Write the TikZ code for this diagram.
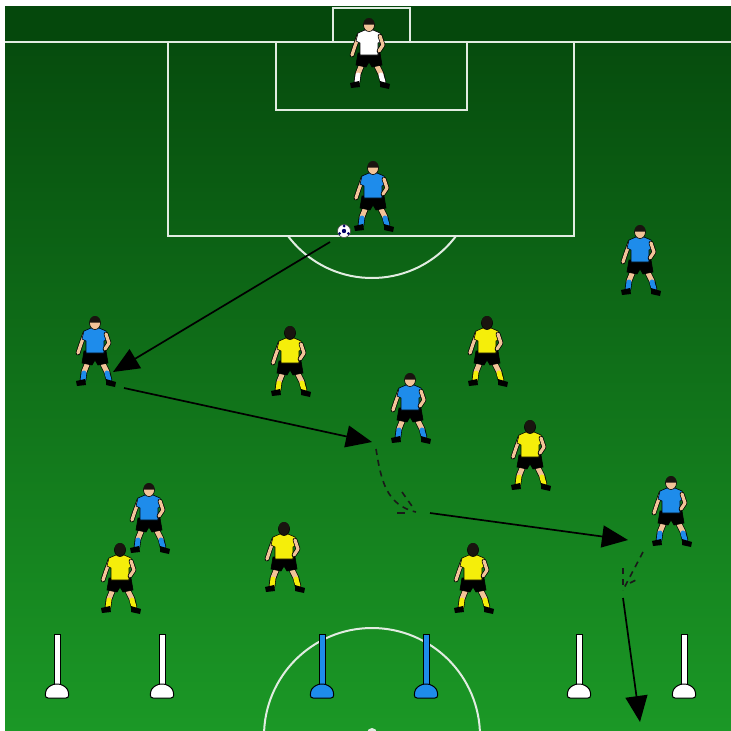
\documentclass[tikz,border=0pt]{standalone}
\usetikzlibrary{arrows.meta}
\definecolor{skin}{RGB}{242,196,152}
\definecolor{kitblue}{RGB}{30,140,235}
\definecolor{kityellow}{RGB}{245,238,10}
\definecolor{grassTop}{RGB}{5,72,12}
\definecolor{grassMid}{RGB}{18,132,28}
\definecolor{grassLow}{RGB}{27,152,38}
\definecolor{pitchline}{RGB}{225,236,225}
\definecolor{hair}{RGB}{25,20,15}

\tikzset{
  pitch/.style={draw=pitchline, line width=2pt},
  run/.style={black, line width=1.7pt, -{Triangle[length=26pt,width=22pt]}},
  dribble/.style={black!90, line width=1.6pt, dash pattern=on 6pt off 5pt},
  limb/.style={line width=5pt, line cap=round, line join=round},
  limbedge/.style={line width=6.4pt, line cap=round, line join=round, black},
  outline/.style={draw=black, line width=0.6pt},
  % a player in a defending stance; origin at the centre of the head
  % #1 shirt, #2 socks, #3 head colour
  pics/player/.style n args={3}{code={
    % legs
    \draw[limbedge] (-7,39) -- (-11,49) -- (-12,57);
    \draw[limbedge] (7,39) -- (12,49) -- (14,57);
    \draw[limb, skin] (-7,39) -- (-11,49);
    \draw[limb, skin] (7,39) -- (12,49);
    \draw[limb, #2] (-11,50) -- (-12,57);
    \draw[limb, #2] (12,50) -- (14,57);
    % boots
    \fill[black] (-19,58) -- (-10,56) -- (-9,62) -- (-18,63) -- cycle;
    \fill[black] (11,56) -- (21,59) -- (20,64) -- (11,62) -- cycle;
    % back arm
    \draw[limbedge, line width=4.6pt] (-10,10) -- (-14,21) -- (-17,30);
    \draw[limb, skin, line width=3.2pt] (-10,10) -- (-14,21) -- (-17,30);
    % shorts
    \filldraw[fill=black, outline] (-11,28) -- (11,28) -- (13,40) -- (3,42)
      -- (0,37) -- (-3,42) -- (-13,40) -- cycle;
    % shirt
    \filldraw[fill=#1, outline] (-4,5) -- (4,5) -- (11,8) -- (13,16) -- (9,18)
      -- (9,30) -- (-9,30) -- (-9,18) -- (-13,16) -- (-11,8) -- cycle;
    % front arm
    \draw[limbedge, line width=4.6pt] (11,11) -- (14,20) -- (10,26);
    \draw[limb, skin, line width=3.2pt] (11,11) -- (14,20) -- (10,26);
    % head and hair
    \filldraw[fill=#3, outline] (0,0) ellipse (5.5 and 6.5);
    \fill[hair] (-5.5,-0.5) arc[start angle=180, end angle=360, x radius=5.5, y radius=6.5] -- cycle;
  }},
  % training pole on a rounded foot
  pics/pole/.style={code={
    \filldraw[fill=#1, draw=black, line width=1pt] (-3,634) rectangle (3,687);
    \filldraw[fill=#1, draw=black, line width=1pt, rounded corners=3pt]
      (-4,684) -- (4,684) -- (11,689) -- (12,698) -- (-12,698) -- (-11,689) -- cycle;
  }},
}

\begin{document}
\begin{tikzpicture}[x=1pt, y=-1pt]
  \useasboundingbox (0,0) rectangle (731,731);
  \fill[white] (0,0) rectangle (731,731);

  % grass
  \shade[top color=grassTop, middle color=grassMid, bottom color=grassLow]
    (5,6) rectangle (731,731);
  \fill[grassTop] (5,6) rectangle (731,42);

  \begin{scope}
    \clip (5,6) rectangle (731,731);
    % goal line, goal, six-yard box and penalty box
    \draw[pitch] (5,42) -- (731,42);
    \draw[pitch] (333,42) -- (333,8) -- (410,8) -- (410,42);
    \draw[pitch] (276,42) rectangle (467,110);
    \draw[pitch] (168,42) rectangle (574,236);
    % penalty arc
    \begin{scope}
      \clip (5,237) rectangle (731,731);
      \draw[pitch] (372,173) circle (105);
    \end{scope}
    % centre circle and spot
    \draw[pitch] (372,736) circle (108);
    \fill[pitchline] (372,733) circle (5);
  \end{scope}

  % poles
  \pic (pa) at (57,0) {pole=white};
  \pic (pb) at (162,0) {pole=white};
  \pic (pc) at (322,0) {pole=kitblue};
  \pic (pd) at (426,0) {pole=kitblue};
  \pic (pe) at (579,0) {pole=white};
  \pic (pf) at (684,0) {pole=white};

  % goalkeeper
  \pic (gk) at (369,25) {player={white}{white}{skin}};
  % blue team
  \pic (b1) at (373,168) {player={kitblue}{kitblue}{skin}};
  \pic (b2) at (640,232) {player={kitblue}{kitblue}{skin}};
  \pic (b3) at (95,323) {player={kitblue}{kitblue}{skin}};
  \pic (b4) at (410,380) {player={kitblue}{kitblue}{skin}};
  \pic (b5) at (149,490) {player={kitblue}{kitblue}{skin}};
  \pic (b6) at (671,483) {player={kitblue}{kitblue}{skin}};
  % yellow team
  \pic (y1) at (290,333) {player={kityellow}{kityellow}{hair}};
  \pic (y2) at (487,323) {player={kityellow}{kityellow}{hair}};
  \pic (y3) at (530,427) {player={kityellow}{kityellow}{hair}};
  \pic (y4) at (284,529) {player={kityellow}{kityellow}{hair}};
  \pic (y5) at (120,550) {player={kityellow}{kityellow}{hair}};
  \pic (y6) at (473,550) {player={kityellow}{kityellow}{hair}};

  % ball
  \node[circle, fill=white, draw=black!70, line width=0.6pt, inner sep=0pt,
        minimum size=13pt] (ball) at (344,231) {};
  \fill[black!60!blue] (ball.center) circle (2.2);
  \foreach \a in {30,150,270} \fill[black!60!blue] (ball.center) ++(\a:5) circle (1.5);

  % movement coordinates
  \coordinate (p1) at (330,242);
  \coordinate (p2) at (113,372);
  \coordinate (p3) at (124,388);
  \coordinate (p4) at (372,442);
  \coordinate (d1) at (376,449);
  \coordinate (d2) at (416,512);
  \coordinate (d3) at (402,492);
  \coordinate (d4) at (414,509);
  \coordinate (d5) at (397,513);
  \coordinate (d6) at (406,513);
  \coordinate (p5) at (430,513);
  \coordinate (p6) at (628,540);
  \coordinate (e1) at (643,552);
  \coordinate (e2) at (623,590);
  \coordinate (e3) at (623,568);
  \coordinate (e4) at (630,583);
  \coordinate (e5) at (638,579);
  \coordinate (p7) at (623,598);
  \coordinate (p8) at (640,722);

  % pass, run, dribble and shot
  \draw[run] (p1) -- (p2);
  \draw[run] (p3) -- (p4);
  \draw[dribble] (d1) .. controls (381,480) and (386,505) .. (d2);
  \draw[dribble] (d3) -- (d4);
  \draw[dribble, dash pattern=on 8pt off 2pt] (d5) -- (d6);
  \draw[run] (p5) -- (p6);
  \draw[dribble] (e1) -- (e2);
  \draw[dribble] (e3) -- (e2);
  \draw[dribble] (e4) -- (e5);
  \draw[run] (p7) -- (p8);
\end{tikzpicture}
\end{document}
